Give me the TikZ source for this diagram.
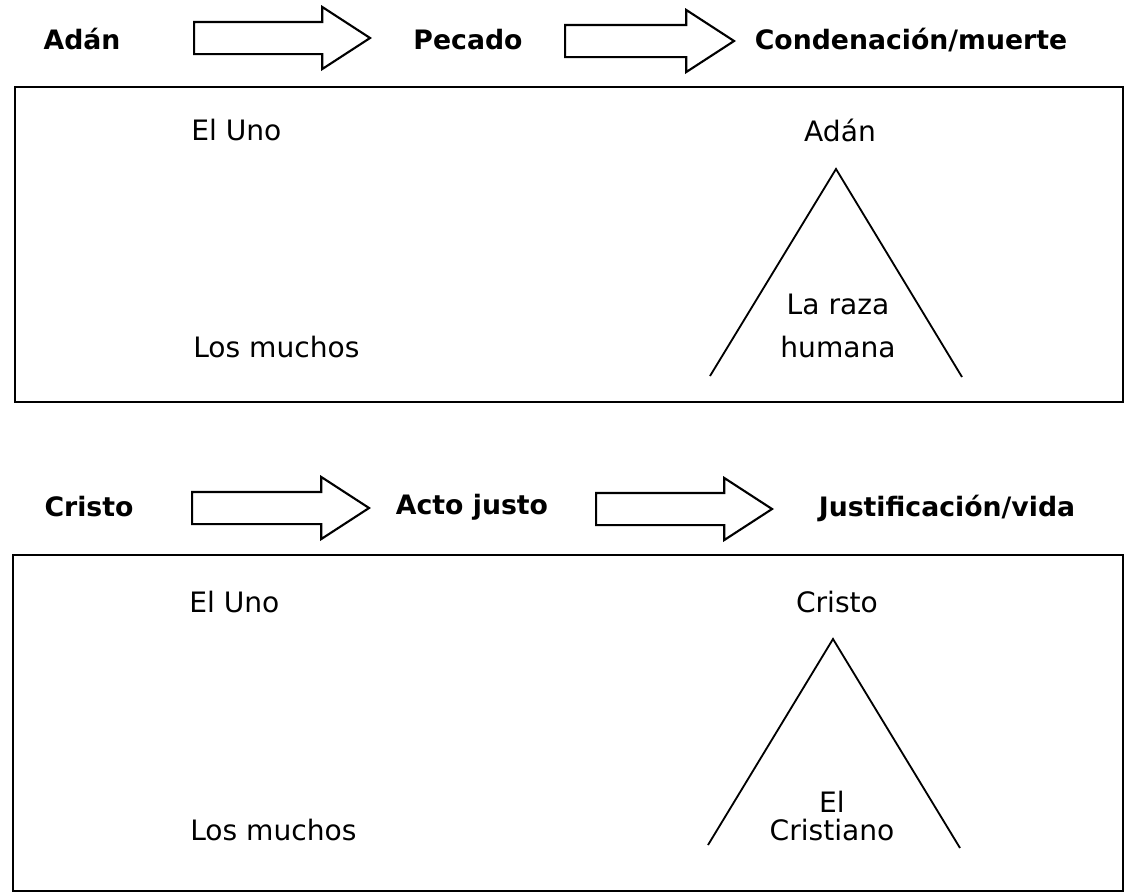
\documentclass[tikz,border=0pt]{standalone}
\usepackage{fontspec}
\setmainfont{DejaVu Sans}
\usepackage{tikz}
\usetikzlibrary{shapes.arrows}
\tikzset{
    heading/.style={font=\fontsize{19}{22}\selectfont\bfseries, inner sep=0pt},
    bodytext/.style={font=\fontsize{20}{30}\selectfont, inner sep=0pt},
    bigarrow/.style={draw, single arrow, single arrow head extend=3.75mm,
        single arrow tip angle=66, inner xsep=0pt, inner ysep=3.75mm,
        line width=1.5pt, anchor=tail},
    panel/.style={draw, line width=1.6pt},
    pyramid/.style={draw, line width=1.3pt},
}

\begin{document}
\begin{tikzpicture}[x=0.25mm, y=-0.25mm]
	\useasboundingbox (0,0) rectangle (1125,895);
	% Adan
	\node[heading] (adan) at (82,39) {Adán};
	\node[bigarrow, minimum height=44mm] (arrowa) at (193,38) {};
	\node[heading] (pecado) at (468,40) {Pecado};
	\node[bigarrow, minimum height=42.25mm] (arrowb) at (564,41) {};
	\node[heading] (muerte) at (911,40) {Condenación/muerte};
	\draw[panel] (15,87) rectangle (1123,402);
	\node[bodytext, anchor=west] (unoa) at (191,130) {El Uno};
	\node[bodytext] (adanb) at (840,130) {Adán};
	\coordinate (topa) at (836,169);
	\draw[pyramid] (710,376) -- (topa) -- (962,377);
	\node[bodytext, align=center] (raza) at (838,326) {La raza\\humana};
	\node[bodytext, anchor=west] (muchosa) at (193,347) {Los muchos};
	% Cristo
	\node[heading] (cristo) at (89,507) {Cristo};
	\node[bigarrow, minimum height=44.25mm] (arrowc) at (191,508) {};
	\node[heading] (acto) at (472,507) {Acto justo};
	\node[bigarrow, minimum height=44mm] (arrowd) at (595,509) {};
	\node[heading] (vida) at (947,508) {Justificación/vida};
	\draw[panel] (13,555) rectangle (1123,891);
	\node[bodytext, anchor=west] (unob) at (189,602) {El Uno};
	\node[bodytext] (cristob) at (837,602) {Cristo};
	\coordinate (topb) at (833,639);
	\draw[pyramid] (708,845) -- (topb) -- (960,848);
	\node[bodytext, align=center, font=\fontsize{20}{20}\selectfont] (cristiano) at (832,816) {El\\Cristiano};
	\node[bodytext, anchor=west] (muchosb) at (190,830) {Los muchos};
\end{tikzpicture}
\end{document}
